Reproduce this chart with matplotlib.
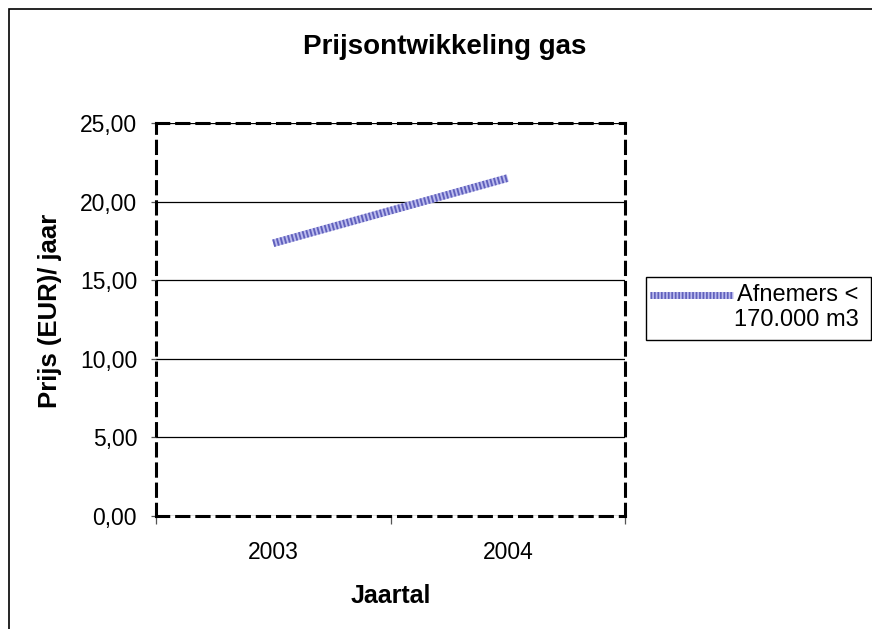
import matplotlib
matplotlib.use("Agg")
import matplotlib.pyplot as plt
from matplotlib.patches import Rectangle
from matplotlib.ticker import FuncFormatter, MultipleLocator
from matplotlib.legend_handler import HandlerTuple
from matplotlib.lines import Line2D

plt.rcParams['font.family'] = ['Liberation Sans', 'DejaVu Sans']

years = ['2003', '2004']
prices = [17.35, 21.5]
series_label = 'Afnemers <\n170.000 m3'
title = 'Prijsontwikkeling gas'
xlabel = 'Jaartal'
ylabel = 'Prijs (EUR)/ jaar'

W, H = 872, 629
fig = plt.figure(figsize=(W / 100, H / 100), dpi=100)
ax = fig.add_axes([156 / W, 1 - 516 / H, (625 - 156) / W, (516 - 123) / H])

# outer chart border (cut off at right and bottom)
fig.patches.append(Rectangle((9 / W, -0.1), 1.2, 1 - 9 / H + 0.1,
                             transform=fig.transFigure, fill=False,
                             edgecolor='black', linewidth=1.2, zorder=0))

xpos = [0.5 + i for i in range(len(years))]
ax.plot(xpos, prices, color='#bcbcee', linewidth=5.5,
        solid_capstyle='butt', zorder=3)
ax.plot(xpos, prices, color='#6060bc', linewidth=5.5,
        linestyle=(0, (0.25, 0.25)), dash_capstyle='butt', zorder=4)

ax.set_xlim(0, len(years))
ax.set_ylim(0, 25)
ax.yaxis.set_major_locator(MultipleLocator(5))
ax.yaxis.set_major_formatter(FuncFormatter(lambda v, p: f"{v:.2f}".replace('.', ',')))
ax.set_xticks(range(len(years) + 1))
ax.set_xticklabels([])
ax.set_xticks(xpos, minor=True)
ax.set_xticklabels(years, minor=True)
ax.tick_params(axis='x', which='minor', length=0, pad=18, labelsize=16.5)
ax.tick_params(axis='x', which='major', direction='out', length=6,
               width=0.9, color='#555555')
ax.tick_params(axis='y', direction='out', length=3.6, width=0.9,
               color='#555555', labelsize=16.5, pad=10)

ax.grid(axis='y', color='black', linewidth=0.9)
ax.set_axisbelow(True)
for s in ax.spines.values():
    s.set_linestyle((0, (4, 2.6)))
    s.set_linewidth(2.2)
    s.set_color('black')

ax.set_xlabel(xlabel, fontsize=18, fontweight='bold', va='center')
ax.xaxis.set_label_coords(0.5, (516 - 596) / 393)
ax.set_ylabel(ylabel, fontsize=18.5, fontweight='bold', va='center')
ax.yaxis.set_label_coords((50 - 156) / 469, (516 - 311) / 393)
fig.text(444.5 / W, 1 - 47 / H, title, fontsize=20, fontweight='bold',
         ha='center', va='center')


class HandlerTupleUp(HandlerTuple):
    def create_artists(self, legend, orig_handle, xdescent, ydescent,
                       width, height, fontsize, trans):
        arts = super().create_artists(legend, orig_handle, xdescent, ydescent,
                                      width, height, fontsize, trans)
        for a in arts:
            a.set_ydata([y + 9 for y in a.get_ydata()])
        return arts


h_base = Line2D([], [], color='#bcbcee', linewidth=5, solid_capstyle='butt')
h_dots = Line2D([], [], color='#6060bc', linewidth=5,
                linestyle=(0, (0.25, 0.25)), dash_capstyle='butt')
leg = fig.legend([(h_base, h_dots)], [series_label],
                 handler_map={tuple: HandlerTupleUp(ndivide=1)},
                 loc='upper left', bbox_to_anchor=(646 / W, 1 - 280 / H),
                 fontsize=17, frameon=False, handlelength=3.5,
                 handletextpad=0.05, borderpad=0.17, borderaxespad=0)
for t in leg.get_texts():
    t.set_multialignment('right')
# legend frame
fig.patches.append(Rectangle((646 / W, 1 - 340 / H), (871 - 646) / W,
                             (340 - 277) / H, transform=fig.transFigure,
                             fill=False, edgecolor='black', linewidth=1.0))

fig.savefig('out.png', dpi=100)
